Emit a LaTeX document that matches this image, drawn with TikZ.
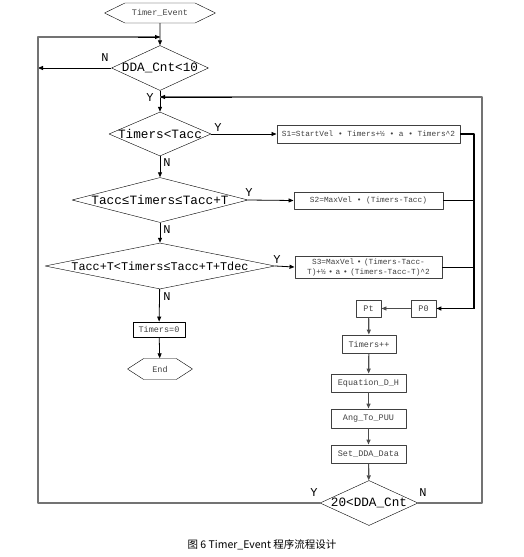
\documentclass[tikz,border=0pt]{standalone}
\usepackage{fontspec}
\setmonofont{Liberation Mono}
\newfontfamily\cjk{Noto Sans CJK SC}
\usetikzlibrary{shapes.geometric,shapes.symbols,arrows.meta}
\tikzset{
  decision/.style 2 args={diamond,draw,inner sep=0pt,minimum width=#1,minimum height=#2},
  dtext/.style={font=\ttfamily\fontsize{12.7}{13}\selectfont,inner sep=0pt},
  term/.style={signal,signal to=east and west,draw,inner sep=0pt,font=\ttfamily\fontsize{8.5}{9}\selectfont,text=black!75},
  box/.style={draw=black!75,line width=0.9pt,inner sep=1pt,font=\ttfamily\fontsize{8.5}{9}\selectfont,text=black!75},
  sbox/.style={box,font=\ttfamily\fontsize{7.8}{10}\selectfont,align=center},
  lbl/.style={font=\ttfamily\fontsize{12}{12}\selectfont,inner sep=0pt},
  loopline/.style={draw=black!55,line width=1.6pt},
  flow/.style={->,line width=0.8pt},
}
\begin{document}
\begin{tikzpicture}[x=1pt,y=-1pt,>={Triangle[length=5pt,width=4pt]},line join=round]
\useasboundingbox (0,0) rectangle (524,557);
% left column
\node[term,minimum width=111,minimum height=20,signal pointer angle=52] (te) at (160,13) {Timer\_Event};
\node[decision={97}{45},label={[dtext]center:DDA\_Cnt<10}] (d1) at (160,68) {};
\node[decision={102}{44},label={[dtext]center:Timers<Tacc}] (d2) at (160,134) {};
\node[decision={176}{45},label={[dtext]center:Tacc≤Timers≤Tacc+T}] (d3) at (160,200) {};
\node[decision={230}{46},label={[dtext,font=\ttfamily\fontsize{11.8}{12}\selectfont]center:Tacc+T<Timers≤Tacc+T+Tdec}] (d4) at (160,266) {};
\node[draw,line width=0.8pt,minimum width=52,minimum height=15,inner sep=0pt,font=\ttfamily\fontsize{8.5}{9}\selectfont,text=black!75] (reset) at (159,329.5) {Timers=0};
\node[term,minimum width=65,minimum height=21,signal pointer angle=66] (endn) at (160,369) {End};
% right column
\node[sbox,minimum width=183,minimum height=18] (s1) at (368.5,134) {S1=StartVel • Timers+½ • a • Timers\textasciicircum 2};
\node[sbox,minimum width=149,minimum height=17] (s2) at (368.5,200.5) {S2=MaxVel • (Timers-Tacc)};
\node[sbox,text width=145,minimum height=22,inner sep=1pt] (s3) at (368.5,267) {S3=MaxVel • (Timers-Tacc-\\T)+½ • a • (Timers-Tacc-T)\textasciicircum 2};
\node[box,minimum width=25,minimum height=17] (pt) at (368.5,308.5) {Pt};
\node[box,minimum width=25,minimum height=17] (p0) at (423.5,308.5) {P0};
\node[box,minimum width=54,minimum height=18] (inc) at (369,344) {Timers++};
\node[box,minimum width=75,minimum height=18] (eq) at (368.5,383) {Equation\_D\_H};
\node[box,minimum width=75,minimum height=19] (ang) at (368.5,418.5) {Ang\_To\_PUU};
\node[box,minimum width=75,minimum height=18] (set) at (368.5,454) {Set\_DDA\_Data};
\node[decision={98}{45},label={[dtext]center:20<DDA\_Cnt}] (d5) at (369,503) {};
% junctions
\coordinate (m1) at (160,37);
\coordinate (m2) at (160,97);
\coordinate (lt) at (38,37);
\coordinate (lb) at (38,503);
\coordinate (lm) at (38,68);
\coordinate (rt) at (482,97);
\coordinate (rb) at (482,503);
\coordinate (jn) at (474,308.5);
% Y / N labels
\node[lbl] (n1) at (105,58) {N};
\node[lbl] (y1) at (150,98) {Y};
\node[lbl] (y2) at (218,128) {Y};
\node[lbl] (n2) at (167,163) {N};
\node[lbl] (y3) at (249,193) {Y};
\node[lbl] (n3) at (167,230) {N};
\node[lbl] (y4) at (277,260) {Y};
\node[lbl] (n4) at (167,297) {N};
\node[lbl] (y5) at (314,493) {Y};
\node[lbl] (n5) at (423,493) {N};
% connectors
\draw[flow] (te) -- (d1);
\draw[flow] (d1) -- (d2);
\draw[flow] (d2) -- (d3);
\draw[flow] (d3) -- (d4);
\draw[flow] (d4) -- (reset);
\draw[flow] (reset) -- (endn);
\draw[flow] (d1.west) -- (lm);
\draw[flow] (d2.east) -- (s1.west);
\draw[flow] (d3.east) -- (s2.west);
\draw[flow] (d4.east) -- (s3.west);
\draw[line width=1.6pt] (s1.east) -| (jn);
\draw[line width=1pt] (s2.east) -- (s2.east -| jn);
\draw[line width=1pt] (s3.east) -- (s3.east -| jn);
\draw[->,line width=1.6pt] (jn) -- (p0.east);
\draw[flow,black!70] (p0) -- (pt);
\draw[flow,black!70,line width=1.2pt] (pt) -- (inc);
\draw[flow,black!70,line width=1.2pt] (inc) -- (eq);
\draw[flow,black!70,line width=1.2pt] (eq) -- (ang);
\draw[flow,black!70,line width=1.2pt] (ang) -- (set);
\draw[flow,black!70,line width=1.2pt] (set) -- (d5);
\draw[loopline] (d5.west) -- (lb) -- (lt) -- (m1);
\draw[->,line width=0.8pt] (lt) ++(100,0) -- (m1);
\draw[loopline] (d5.east) -- (rb) -- (rt) -- (m2);
\draw[->,line width=0.8pt] (rt) ++(-250,0) -- (m2);
% caption
\node[font=\cjk\fontsize{10.5}{11}\selectfont] (cap) at (262,545) {图 6 Timer\_Event 程序流程设计};
\end{tikzpicture}
\end{document}
